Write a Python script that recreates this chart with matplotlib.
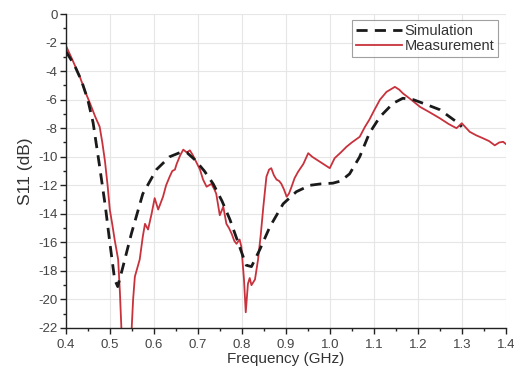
import matplotlib
matplotlib.use("Agg")
import matplotlib.pyplot as plt
from matplotlib.ticker import MultipleLocator

plt.rcParams['font.family'] = ['Liberation Sans', 'DejaVu Sans']

# Simulated S11 response
sim_freq = [0.40, 0.42, 0.436, 0.45, 0.462, 0.477, 0.49, 0.50, 0.511, 0.518, 0.53,
            0.549, 0.575, 0.606, 0.636, 0.66, 0.675, 0.693, 0.715, 0.735, 0.755,
            0.773, 0.795, 0.81, 0.822, 0.841, 0.864, 0.894, 0.924, 0.955, 0.98,
            1.007, 1.025, 1.045, 1.068, 1.09, 1.114, 1.144, 1.166, 1.19, 1.212,
            1.25, 1.288, 1.30]
sim_s11 = [-2.6, -3.6, -4.7, -6.0, -7.6, -10.7, -13.5, -16.0, -18.6, -19.1, -17.7,
           -15.4, -12.6, -10.9, -10.0, -9.7, -9.7, -10.2, -11.0, -11.9, -13.1,
           -14.4, -16.3, -17.6, -17.7, -16.5, -14.9, -13.3, -12.45, -12.0, -11.9,
           -11.85, -11.7, -11.2, -10.0, -8.35, -7.2, -6.25, -5.9, -6.0, -6.25,
           -6.7, -7.55, -7.9]

# Measured S11 response
meas_freq = [0.400, 0.415, 0.432, 0.445, 0.455, 0.467, 0.477, 0.483, 0.489, 0.495,
             0.500, 0.506, 0.511, 0.519, 0.523, 0.527, 0.540, 0.549, 0.553, 0.557,
             0.568, 0.575, 0.580, 0.587, 0.595, 0.602, 0.610, 0.621, 0.628, 0.636,
             0.642, 0.648, 0.652, 0.660, 0.667, 0.675, 0.682, 0.689, 0.697, 0.705,
             0.712, 0.720, 0.731, 0.738, 0.742, 0.750, 0.758, 0.765, 0.771, 0.777,
             0.783, 0.788, 0.795, 0.799, 0.805, 0.809, 0.814, 0.818, 0.822, 0.830,
             0.837, 0.843, 0.849, 0.856, 0.862, 0.867, 0.873, 0.879, 0.885, 0.890,
             0.896, 0.902, 0.907, 0.912, 0.920, 0.928, 0.940, 0.951, 0.960, 0.975,
             0.990, 1.000, 1.011, 1.025, 1.038, 1.050, 1.068, 1.080, 1.090, 1.100,
             1.114, 1.129, 1.148, 1.158, 1.166, 1.185, 1.205, 1.228, 1.250, 1.270,
             1.288, 1.300, 1.318, 1.333, 1.348, 1.362, 1.375, 1.385, 1.394, 1.400]
meas_s11 = [-2.2, -3.2, -4.4, -5.5, -6.25, -7.2, -7.9, -9.0, -10.3, -12.0,
            -13.7, -14.8, -15.8, -17.2, -19.5, -22.5, -24.0, -22.5, -20.0, -18.4,
            -17.2, -15.6, -14.7, -15.1, -14.0, -12.9, -13.7, -12.8, -12.0, -11.4,
            -11.0, -10.9, -10.5, -9.9, -9.5, -9.7, -9.55, -9.9, -10.4, -10.9,
            -11.6, -12.1, -11.9, -12.3, -12.6, -14.1, -13.5, -14.7, -15.0, -15.4,
            -15.9, -16.1, -15.8, -16.3, -18.6, -20.9, -18.9, -18.5, -19.0, -18.6,
            -17.2, -15.5, -13.5, -11.4, -10.9, -10.8, -11.3, -11.6, -11.7, -11.9,
            -12.3, -12.8, -12.6, -12.2, -11.5, -11.05, -10.5, -9.75, -10.0, -10.3,
            -10.6, -10.8, -10.1, -9.7, -9.3, -9.0, -8.6, -7.9, -7.4, -6.8,
            -6.0, -5.45, -5.1, -5.3, -5.55, -6.0, -6.5, -6.9, -7.3, -7.7,
            -8.0, -7.65, -8.25, -8.5, -8.7, -8.9, -9.2, -9.0, -8.95, -9.1]

x_ticks = [0.4, 0.5, 0.6, 0.7, 0.8, 0.9, 1.0, 1.1, 1.2, 1.3, 1.4]
y_ticks = list(range(0, -23, -2))

fig = plt.figure(figsize=(5.14, 3.71), dpi=100)
ax = fig.add_axes([0.128, 0.116, 0.856, 0.846])

ax.plot(sim_freq, sim_s11, color='#1a1a1a', lw=2.0, ls=(0, (4, 2.6)),
        label='Simulation', zorder=3)
ax.plot(meas_freq, meas_s11, color='#c8323c', lw=1.3, label='Measurement', zorder=2)

ax.set_xlim(0.4, 1.4)
ax.set_ylim(-22, 0)
ax.set_xticks(x_ticks)
ax.set_xticklabels([f"{t:.1f}" for t in x_ticks])
ax.set_yticks(y_ticks)
ax.set_yticklabels([str(t) for t in y_ticks])
ax.xaxis.set_minor_locator(MultipleLocator(0.05))
ax.yaxis.set_minor_locator(MultipleLocator(1))

ax.grid(True, which='major', color='#e6e6e6', lw=0.8)
ax.set_axisbelow(True)
for side in ('top', 'right'):
    ax.spines[side].set_visible(False)
for side in ('left', 'bottom'):
    ax.spines[side].set_color('#222222')
    ax.spines[side].set_linewidth(1.0)

ax.tick_params(which='major', direction='out', length=4, width=1.0,
               labelsize=9.5, colors='#222222', labelcolor='#444444')
ax.tick_params(axis='x', which='major', pad=4)
ax.tick_params(axis='y', which='major', pad=2)
ax.tick_params(which='minor', direction='out', length=2, width=1.0, colors='#222222')

ax.set_xlabel('Frequency (GHz)', fontsize=11, color='#333333', labelpad=1)
ax.set_ylabel('S11 (dB)', fontsize=12.5, color='#333333', labelpad=4)

leg = ax.legend(loc='upper right', bbox_to_anchor=(0.982, 0.98), fontsize=10.5,
                frameon=True, fancybox=False, handlelength=3.2,
                borderpad=0.25, labelspacing=0.1, handletextpad=0.15,
                borderaxespad=0.0)
leg.get_frame().set_edgecolor('#888888')
leg.get_frame().set_linewidth(0.8)
for t in leg.get_texts():
    t.set_color('#333333')

fig.savefig('out.png', dpi=100, facecolor='white')
